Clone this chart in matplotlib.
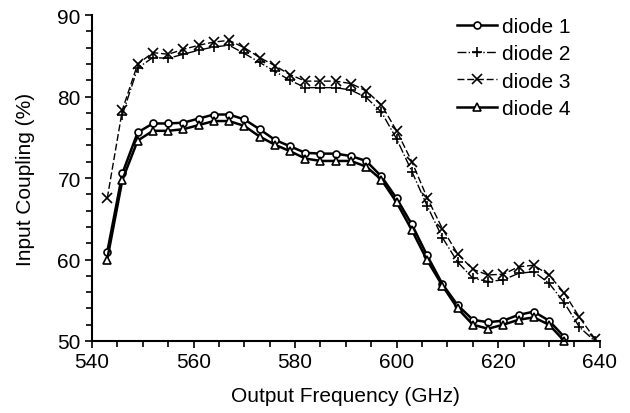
import numpy as np
import matplotlib
matplotlib.use("Agg")
import matplotlib.pyplot as plt
from matplotlib.ticker import MultipleLocator

plt.rcParams['font.family'] = ['Liberation Sans', 'DejaVu Sans']

# frequencies (GHz)
freq_1 = np.arange(543, 634, 3)   # diode 1 and 4
freq_2 = np.arange(546, 640, 3)   # diode 2
freq_3 = np.arange(543, 640, 3)   # diode 3

diode_1 = [60.9, 70.6, 75.6, 76.7, 76.7, 76.8, 77.3, 77.8, 77.8, 77.2,
           76.0, 74.7, 73.9, 73.1, 73.0, 73.0, 72.7, 72.1, 70.2, 67.5,
           64.3, 60.5, 57.0, 54.4, 52.6, 52.3, 52.5, 53.2, 53.6, 52.5, 50.5]
diode_2 = [77.8, 83.5, 84.8, 84.7, 85.2, 85.7, 86.1, 86.3, 85.3, 84.2,
           83.1, 82.0, 81.1, 81.1, 81.1, 80.8, 79.9, 78.1, 74.8, 70.8,
           66.6, 62.7, 59.7, 57.7, 57.3, 57.5, 58.3, 58.5, 57.1, 54.7,
           51.7, 50.0]
diode_3 = [67.5, 78.4, 84.0, 85.4, 85.2, 85.8, 86.3, 86.7, 86.9, 86.0,
           84.8, 83.8, 82.7, 81.9, 81.9, 81.9, 81.6, 80.7, 79.0, 75.8,
           72.0, 67.6, 63.8, 60.7, 58.8, 58.1, 58.2, 59.1, 59.3, 58.1,
           55.9, 52.9, 50.3]
diode_4 = [60.0, 69.8, 74.6, 75.8, 75.8, 76.0, 76.5, 77.0, 77.0, 76.4,
           75.1, 74.1, 73.3, 72.4, 72.1, 72.1, 72.1, 71.4, 69.8, 67.0,
           63.6, 59.9, 56.8, 54.0, 52.0, 51.5, 52.0, 52.6, 52.9, 52.0, 50.0]

fig = plt.figure(figsize=(6.3, 4.14), dpi=100)
ax = fig.add_axes([0.146, 0.174, 0.806, 0.787])

ax.plot(freq_1, diode_1, '-', color='black', lw=1.8, marker='o', ms=5,
        mfc='white', mec='black', mew=1.2, label='diode 1', clip_on=False)
ax.plot(freq_2, diode_2, '-.', color='black', lw=1.0, marker='+', ms=6.5,
        mew=1.2, label='diode 2')
ax.plot(freq_3, diode_3, '--', color='black', lw=1.0, marker='x', ms=6.5,
        mew=1.2, label='diode 3', dashes=(5, 2))
ax.plot(freq_1, diode_4, '-', color='black', lw=1.8, marker='^', ms=5.5,
        mfc='white', mec='black', mew=1.2, label='diode 4', clip_on=False)

ax.set_xlim(540, 640)
ax.set_ylim(50, 90)
ax.xaxis.set_major_locator(MultipleLocator(20))
ax.xaxis.set_minor_locator(MultipleLocator(5))
ax.yaxis.set_major_locator(MultipleLocator(10))
ax.yaxis.set_minor_locator(MultipleLocator(2))
ax.tick_params(which='both', direction='out', width=1.2, labelsize=15)
ax.tick_params(which='major', length=5, pad=3)
ax.tick_params(which='minor', length=4)
for s in ['top', 'right']:
    ax.spines[s].set_visible(False)
for s in ['left', 'bottom']:
    ax.spines[s].set_linewidth(1.5)

ax.set_xlabel('Output Frequency (GHz)', fontsize=15, labelpad=11)
ax.set_ylabel('Input Coupling (%)', fontsize=15, labelpad=16)

ax.legend(loc='upper left', bbox_to_anchor=(457 / 630, 1 - 18 / 414),
          bbox_transform=fig.transFigure, frameon=False, fontsize=15,
          handlelength=1.9, handletextpad=0.25, labelspacing=0.4,
          borderpad=0, borderaxespad=0)

fig.savefig('out.png', dpi=100)
